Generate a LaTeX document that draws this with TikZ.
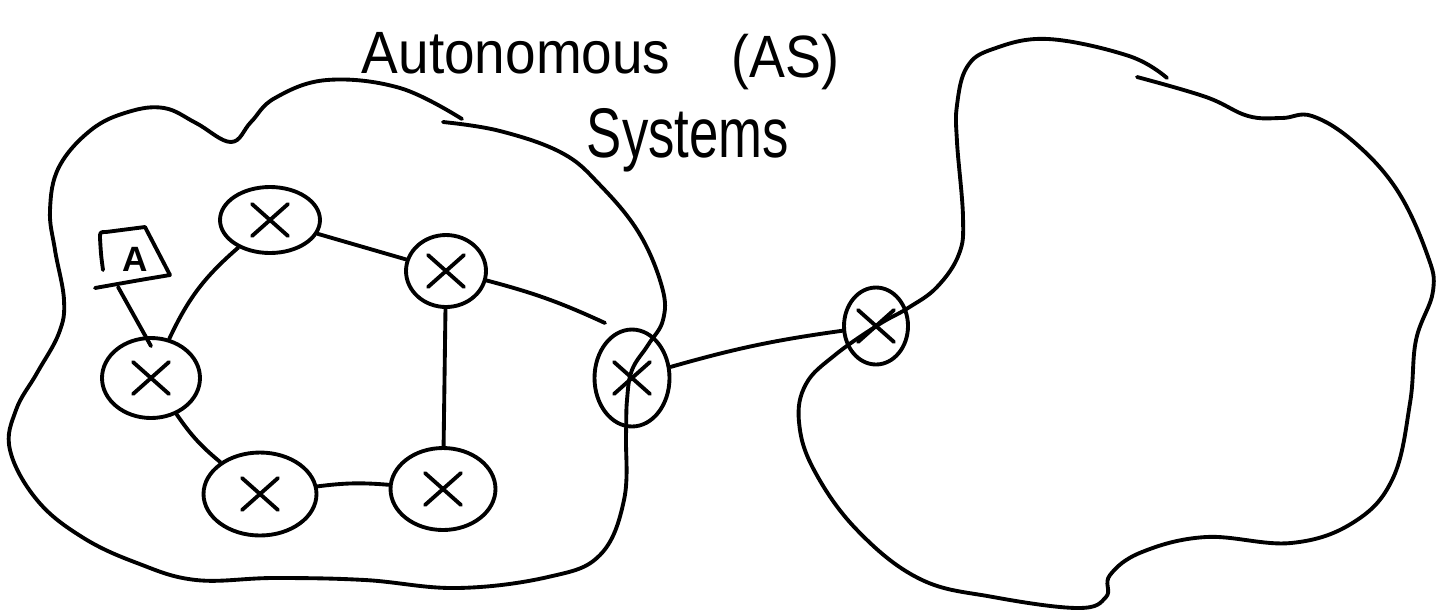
\documentclass[tikz,border=0pt]{standalone}
\usepackage{fontspec}
\usepackage{graphicx}
\setmainfont{Liberation Sans}
\usetikzlibrary{shapes.geometric}
\begin{document}
\begin{tikzpicture}[x=0.02cm,y=-0.02cm,
  line width=2.2pt, line cap=round, line join=round,
  router/.style={ellipse, draw, inner sep=0pt,
    path picture={\draw[line width=2.2pt,line cap=round]
      ([shift={(-0.36cm,-0.32cm)}]path picture bounding box.center) -- ([shift={(0.36cm,0.32cm)}]path picture bounding box.center)
      ([shift={(-0.36cm,0.32cm)}]path picture bounding box.center) -- ([shift={(0.36cm,-0.32cm)}]path picture bounding box.center);}},
  cloud/.style={draw},
  hand/.style={inner sep=0pt, anchor=base west},
  link/.style={draw}
  ]
\useasboundingbox (0,0) rectangle (1439,613);

% left autonomous system
\draw[cloud] plot[smooth, tension=0.65] coordinates {
 (443,122) (500,131) (562,153) (600,185) (639,233) (662,287) (663,320) (648,345)
 (632,370) (627,400) (626,435) (624,500) (600,555) (548,577) (457,588) (365,580)
 (274,578) (196,580) (137,563) (82,537) (37,500) (10,450) (16,410) (37,373)
 (59,333) (64,300) (55,250) (50,210) (59,167) (91,130) (128,112) (164,108)
 (196,123) (231,142) (251,122) (275,98) (327,80) (400,88) (462,119)};

% right autonomous system
\draw[cloud] plot[smooth, tension=0.65] coordinates {
 (1137,77) (1206,97) (1248,116) (1282,118) (1312,116) (1354,142) (1397,190)
 (1427,254) (1433,291) (1416,340) (1410,403) (1393,478) (1354,522) (1291,543)
 (1206,537) (1142,552) (1110,575) (1106,597) (1078,608) (993,597) (920,579)
 (857,530) (814,470) (799,422) (806,384) (835,355) (878,325) (908,308)
 (937,287) (959,254) (963,217) (957,142) (957,105) (967,67) (993,49)
 (1048,39) (1129,56) (1167,78)};

% routers
\node[router, minimum width=1.96cm, minimum height=1.6cm] (N1) at (151,378) {};
\node[router, minimum width=2.0cm, minimum height=1.32cm] (N2) at (270,220) {};
\node[router, minimum width=1.6cm, minimum height=1.44cm] (N3) at (446,271) {};
\node[router, minimum width=1.5cm, minimum height=1.94cm] (N4) at (632,378) {};
\node[router, minimum width=2.26cm, minimum height=1.66cm] (N5) at (260,494) {};
\node[router, minimum width=2.1cm, minimum height=1.64cm] (N6) at (443,489) {};
\node[router, minimum width=1.28cm, minimum height=1.54cm] (N7) at (876,326) {};

% host box
\node[inner sep=0pt, minimum width=1.4cm, minimum height=1.04cm,
      font=\fontsize{20}{20}\selectfont\bfseries] (ia) at (135,259) {A};
\draw (103,270) .. controls (101,255) .. (100,238) .. controls (100,232) .. (106,232)
  -- (145,227) -- (170,275) .. controls (140,280) .. (95,288);

% links
\coordinate (c34) at (605,323);
\draw[link] ([xshift=-0.34cm]ia.south) -- ([yshift=-0.2cm]N1.north);
\draw[link] (N1) to[bend left=12] (N2);
\draw[link] (N2) -- (N3);
\draw[link] (N3) to[bend left=5] (c34);
\draw[link] (N3) -- (N6);
\draw[link] (N1) to[bend right=8] (N5);
\draw[link] (N5) to[bend left=6] (N6);
\draw[link] (N4) to[bend left=4] (N7);

% labels
\node[hand, font=\fontsize{34}{34}\selectfont] (t1) at (360,73) {\scalebox{0.92}[1]{Autonomous}};
\node[hand, font=\fontsize{34}{34}\selectfont] (t2) at (730,77) {\scalebox{0.9}[1]{(AS)}};
\node[hand, font=\fontsize{40}{40}\selectfont] (t3) at (585,157) {\scalebox{0.75}[1]{Systems}};
\end{tikzpicture}
\end{document}
